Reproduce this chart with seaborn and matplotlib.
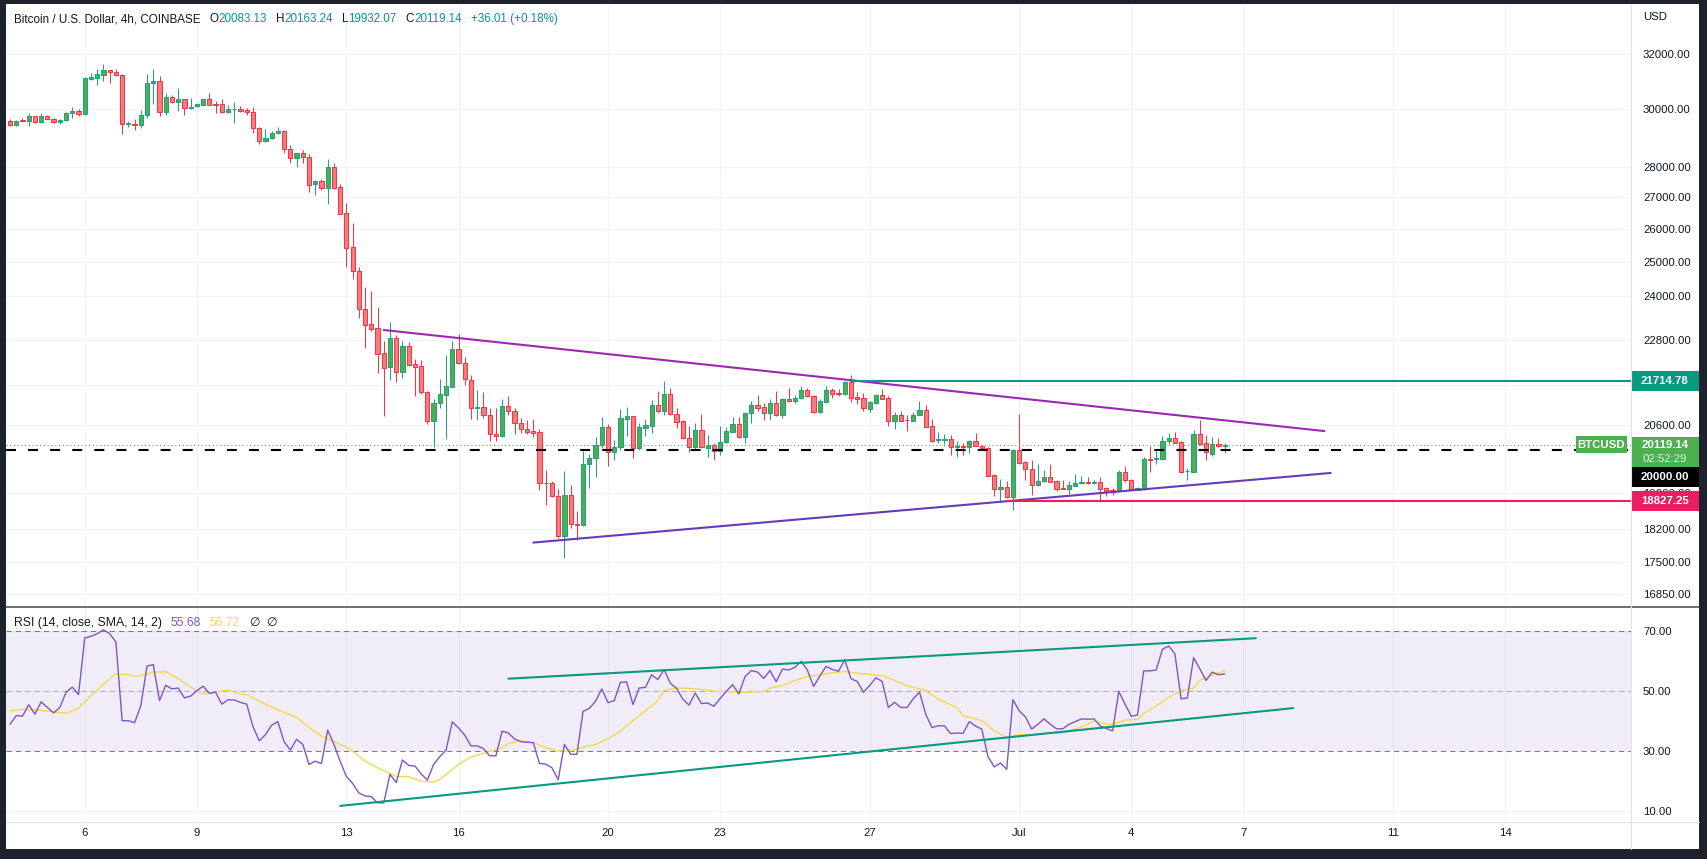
import numpy as np
import pandas as pd
import matplotlib
matplotlib.use("Agg")
import matplotlib.pyplot as plt
import matplotlib.dates as mdates
from matplotlib.patches import Rectangle
from matplotlib.ticker import FixedLocator, NullLocator, FuncFormatter
import seaborn as sns

sns.set_style("white")
plt.rcParams['font.family'] = ['Liberation Sans', 'DejaVu Sans']

# --- BTCUSD 4h candles, 2022-06-04 00:00 .. 2022-07-06 12:00 ---
open_ = [29579, 29427, 29590, 29556, 29744, 29521, 29744, 29650, 29521, 29591,
         29838, 29933, 29803, 31081, 31130, 31241, 31400, 31328, 31229, 29451,
         29462, 29416, 29767, 30921, 30995, 29874, 30411, 30255, 30339, 30016,
         30099, 30147, 30339, 30183, 30159, 29874, 29980, 30004, 29945, 29897,
         29323, 28860, 28963, 29137, 29230, 28587, 28283, 28476, 28328, 27444,
         27520, 27313, 27982, 27335, 26503, 25453, 24737, 23635, 23226, 23116,
         22439, 22077, 22843, 21946, 22627, 22147, 22095, 21422, 20688, 21136,
         21355, 21559, 22537, 22174, 21721, 21010, 21035, 20836, 20379, 20339,
         21060, 20936, 20647, 20492, 20444, 20419, 19233, 19226, 18930, 18044,
         18953, 18303, 18282, 19657, 19797, 20106, 20540, 19940, 20058, 20753,
         20811, 20034, 20532, 20581, 21085, 20935, 21371, 20860, 20695, 20274,
         20074, 20476, 20034, 20106, 19963, 20186, 20435, 20614, 20314, 20885,
         21085, 21035, 20885, 21135, 20836, 21236, 21194, 21261, 21465, 21312,
         20926, 21177, 21465, 21396, 21363, 21679, 21287, 21261, 21001, 21152,
         21337, 21261, 20703, 20836, 20720, 20703, 20852, 20968, 20565, 20226,
         20245, 20250, 20058, 20082, 20058, 20202, 20090, 20034, 19409, 19081,
         19126, 18900, 19987, 19704, 19540, 19173, 19271, 19358, 19272, 19106,
         19098, 19165, 19218, 19249, 19218, 19249, 19113, 19067, 19045, 19479,
         19295, 19067, 19083, 19774, 19774, 19782, 20202, 20275, 20186, 19495,
         19487, 20379, 20162, 19900, 20138, 20083.13]
high_ = [29650, 29600, 29673, 29862, 29760, 29862, 29770, 29660, 29640, 29870,
         30075, 30004, 31150, 31303, 31440, 31640, 31420, 31440, 31250, 29556,
         29650, 29945, 31280, 31450, 31204, 30580, 30484, 30750, 30360, 30387,
         30190, 30360, 30580, 30279, 30350, 30135, 30255, 30099, 30027, 30075,
         29357, 29299, 29230, 29346, 29240, 28734, 28470, 28576, 28418, 27574,
         27585, 28249, 28116, 27433, 26820, 26200, 24855, 24280, 24165, 23710,
         22761, 23282, 22934, 22761, 22743, 22280, 22253, 21440, 21245, 21756,
         22385, 22761, 22952, 22324, 21859, 21473, 21422, 21019, 21019, 21245,
         21321, 21019, 20778, 20721, 20746, 20500, 19525, 19271, 19081, 19502,
         19180, 18596, 19979, 19901, 20306, 20794, 20614, 20234, 20993, 21043,
         20830, 20646, 20744, 21219, 21448, 21704, 21524, 21018, 20720, 20573,
         20646, 20868, 20347, 20154, 20573, 20556, 20786, 20786, 20918, 21194,
         21346, 21135, 21236, 21448, 21261, 21524, 21337, 21575, 21524, 21337,
         21245, 21575, 21515, 21490, 21704, 21860, 21422, 21388, 21186, 21371,
         21490, 21312, 20918, 20943, 20852, 20926, 21194, 21093, 20744, 20427,
         20390, 20355, 20202, 20154, 20234, 20403, 20122, 20058, 19424, 19309,
         19271, 20019, 20868, 19727, 19750, 19665, 19526, 19665, 19290, 19295,
         19272, 19432, 19386, 19358, 19295, 19366, 19128, 19113, 19526, 19619,
         19312, 19128, 19821, 20091, 19995, 20331, 20395, 20420, 20200, 19579,
         20476, 20721, 20355, 20307, 20275, 20163.24]
low_ = [29381, 29400, 29532, 29381, 29500, 29500, 29620, 29500, 29460, 29560,
        29661, 29732, 29790, 31032, 30872, 31020, 30945, 31180, 29126, 29357,
        29265, 29311, 29661, 30183, 29756, 29791, 30219, 29933, 29791, 29980,
        30080, 30130, 30130, 29850, 29860, 29860, 29486, 29900, 29767, 29148,
        28757, 28840, 28950, 29120, 28465, 28138, 28004, 28138, 27184, 27087,
        27238, 26788, 27270, 26470, 24855, 24503, 23383, 22582, 23043, 21920,
        20828, 21730, 21687, 21790, 22100, 21330, 21372, 20622, 20074, 21027,
        20250, 21540, 22150, 21610, 20738, 20721, 20778, 20218, 20218, 20315,
        20844, 20371, 20411, 20371, 20298, 19066, 18737, 18900, 18000, 17592,
        18231, 17965, 18270, 19119, 19371, 20050, 19626, 19766, 19995, 20330,
        19814, 19987, 20330, 20411, 20901, 20836, 20850, 20532, 20260, 19955,
        19987, 20050, 19838, 19766, 19885, 20170, 20420, 20290, 20162, 20654,
        20951, 20728, 20728, 20811, 20778, 21180, 21135, 21250, 21300, 20901,
        20901, 21135, 21270, 21329, 21350, 21177, 21118, 20951, 20918, 21127,
        21240, 20573, 20500, 20690, 20459, 20690, 20840, 20540, 20194, 20170,
        20146, 19877, 19830, 19885, 19916, 20080, 20040, 19380, 18938, 18803,
        18890, 18625, 19670, 19302, 18960, 19160, 19240, 19240, 19052, 19090,
        18969, 19150, 19210, 19205, 19205, 18789, 18931, 18954, 19030, 19241,
        19070, 19055, 19070, 19487, 19657, 19770, 20138, 20160, 19463, 19305,
        19480, 20105, 19758, 19860, 20070, 19932.07]
close_ = [29416, 29579, 29570, 29744, 29521, 29744, 29638, 29521, 29615, 29850,
          29933, 29803, 31106, 31155, 31266, 31415, 31328, 31217, 29451, 29486,
          29416, 29779, 30921, 30995, 29874, 30411, 30255, 30339, 30016, 30075,
          30171, 30339, 30147, 30147, 29874, 30004, 30004, 29909, 29874, 29311,
          28860, 28986, 29148, 29230, 28587, 28283, 28454, 28317, 27411, 27542,
          27313, 27982, 27313, 26482, 25433, 24727, 23635, 23208, 23098, 22421,
          22051, 22843, 21946, 22627, 22121, 22077, 21414, 20688, 21144, 21372,
          21576, 22537, 22165, 21747, 21010, 21035, 20836, 20371, 20339, 21060,
          20936, 20639, 20492, 20436, 20411, 19233, 19226, 18923, 18044, 18953,
          18303, 18282, 19657, 19797, 20106, 20548, 19940, 20066, 20769, 20819,
          20034, 20548, 20597, 21085, 20935, 21371, 20860, 20679, 20274, 20074,
          20476, 20058, 20106, 19963, 20186, 20451, 20614, 20314, 20893, 21085,
          21026, 20885, 21135, 20836, 21236, 21194, 21270, 21465, 21312, 20926,
          21194, 21465, 21380, 21363, 21679, 21278, 21253, 21010, 21160, 21337,
          21253, 20703, 20836, 20703, 20710, 20852, 20968, 20556, 20218, 20250,
          20252, 20058, 20090, 20058, 20202, 20090, 20050, 19394, 19081, 19126,
          18900, 19987, 19680, 19540, 19173, 19271, 19358, 19256, 19098, 19100,
          19180, 19226, 19249, 19218, 19249, 19098, 19052, 19022, 19479, 19295,
          19083, 19106, 19774, 19770, 19797, 20202, 20275, 20170, 19487, 19502,
          20379, 20146, 19940, 20138, 20083, 20119.14]

# RSI(14) per candle
rsi = [38.9, 41.8, 41.6, 45.4, 42.3, 46.4, 44.5, 42.7, 44.5, 49.6,
       51.3, 48.8, 67.7, 68.2, 69.1, 70.4, 69.1, 66.3, 40.1, 40.1,
       39.4, 45.1, 58.3, 58.8, 46.8, 51.9, 50.7, 51.0, 47.7, 48.3,
       50.1, 51.6, 49.2, 49.6, 45.6, 47.1, 47.0, 46.2, 45.6, 38.2,
       33.4, 35.4, 38.6, 39.8, 33.1, 30.3, 33.9, 32.2, 25.5, 26.6,
       25.8, 37.0, 32.2, 26.6, 21.5, 19.2, 16.0, 15.0, 14.8, 12.7,
       12.7, 22.2, 19.5, 27.0, 25.2, 25.0, 22.4, 20.3, 25.5, 28.1,
       30.3, 39.7, 37.7, 35.3, 31.7, 31.7, 30.8, 28.4, 28.4, 36.6,
       36.0, 34.0, 33.1, 32.9, 32.8, 25.9, 25.6, 24.4, 20.4, 32.2,
       28.9, 28.9, 43.2, 44.2, 46.6, 50.7, 46.1, 46.8, 52.9, 53.0,
       45.5, 51.0, 51.2, 55.4, 53.8, 57.2, 52.6, 50.9, 47.3, 45.3,
       49.3, 45.8, 46.0, 44.9, 47.5, 49.9, 52.1, 49.0, 54.8, 56.8,
       56.3, 54.2, 56.8, 53.1, 57.3, 57.0, 57.9, 59.9, 57.0, 51.5,
       55.0, 58.2, 57.2, 56.6, 60.4, 54.1, 53.2, 49.6, 51.8, 54.4,
       53.2, 44.5, 46.2, 44.5, 44.5, 47.4, 49.6, 42.3, 37.8, 38.4,
       38.4, 35.8, 36.0, 35.9, 39.8, 38.3, 37.3, 28.1, 24.7, 26.0,
       23.9, 47.1, 43.4, 41.4, 37.3, 38.9, 40.7, 38.9, 37.4, 37.4,
       38.9, 39.8, 40.7, 40.6, 40.7, 38.4, 37.5, 36.7, 49.9, 45.6,
       41.6, 42.0, 56.7, 56.7, 57.0, 63.9, 65.0, 62.4, 47.4, 47.7,
       61.1, 57.4, 53.5, 56.3, 55.4, 55.68]

# RSI-based SMA(14), read at these candle indices
sma_idx = [0, 2, 4, 7, 9, 11, 13, 15, 17, 19, 20, 22, 23, 25, 27, 29, 31, 33, 35, 37,
           38, 41, 43, 46, 48, 50, 52, 54, 55, 57, 59, 61, 62, 64, 66, 68, 69, 70, 72, 74,
           77, 79, 80, 82, 84, 86, 88, 90, 92, 94, 96, 98, 100, 102, 104, 105, 107, 109, 110, 112,
           113, 115, 117, 119, 121, 122, 124, 126, 128, 130, 132, 134, 137, 140, 142, 144, 147, 149, 152, 153,
           156, 158, 160, 162, 164, 166, 169, 171, 173, 174, 176, 177, 179, 181, 182, 184, 186, 188, 190, 191,
           192, 193, 195]
sma_val = [43.4, 43.9, 43.7, 43.1, 42.5, 44.2, 48.4, 52.3, 55.7, 55.5, 54.8, 55.7, 56.3, 56.4, 54.2, 51.2, 49.0, 49.6, 50.3, 49.0,
           48.8, 45.6, 43.7, 41.2, 37.8, 35.0, 33.1, 31.3, 30.0, 26.6, 24.4, 22.5, 21.5, 21.5, 19.9, 19.7, 20.5, 22.2, 25.5, 28.0,
           29.8, 31.1, 32.5, 33.4, 32.8, 31.1, 30.0, 30.0, 31.3, 32.2, 34.1, 36.7, 40.1, 43.4, 46.8, 50.1, 51.0, 50.9, 50.7, 50.3,
           49.9, 49.8, 49.6, 49.6, 49.8, 50.9, 51.8, 53.5, 54.9, 55.4, 56.1, 56.5, 55.7, 55.1, 53.5, 51.8, 50.1, 47.3, 44.5, 41.8,
           40.1, 36.7, 34.5, 35.4, 35.4, 35.8, 36.0, 37.3, 38.9, 40.1, 38.9, 38.9, 40.3, 40.5, 42.5, 45.0, 47.9, 50.1, 51.0, 53.5,
           54.6, 55.3, 56.72]

# drawings
upper_tl = (["2022-06-14 00:00", "2022-07-09 04:00"], [23061, 20450])
lower_tl = (["2022-06-18 00:00", "2022-07-09 08:00"], [17911, 19456])
resist_start, resist_price = "2022-06-26 12:00", 21714.78
support_start, support_price = "2022-06-30 16:00", 18827.25
level_price = 20000.0
rsi_upper = (["2022-06-17 08:00", "2022-07-07 08:00"], [54.1, 67.6])
rsi_lower = (["2022-06-12 20:00", "2022-07-08 08:00"], [11.7, 44.3])

price_ticks = [32000, 30000, 28000, 27000, 26000, 25000, 24000, 22800, 21600, 20600, 19000, 18200, 17500, 16850]
hidden_ticks = [21600]   # gridline only, its label sits under the 21714.78 tag
rsi_ticks = [10, 30, 50, 70]
date_ticks = ["2022-06-06", "2022-06-09", "2022-06-13", "2022-06-16", "2022-06-20", "2022-06-23",
              "2022-06-27", "2022-07-01", "2022-07-04", "2022-07-07", "2022-07-11", "2022-07-14"]
date_labels = ["6", "9", "13", "16", "20", "23", "27", "Jul", "4", "7", "11", "14"]

# --- colours ---
TXT = '#131722'
UP, UP_E = '#4caf50', '#22a08a'
DN, DN_E = '#f77c80', '#f23645'
TEAL = '#089981'
GRID = '#f0f3fa'

times = pd.date_range("2022-06-04 00:00", periods=len(close_), freq="4h")
t = mdates.date2num(times.to_pydatetime())
o, h, l, c = map(np.array, (open_, high_, low_, close_))
d = lambda s: mdates.date2num(pd.Timestamp(s).to_pydatetime())

W, H = 1708, 859
fig = plt.figure(figsize=(W / 100, H / 100), dpi=100, facecolor='#1e222d')
def rect(x0, y0, x1, y1):
    return [x0 / W, 1 - y1 / H, (x1 - x0) / W, (y1 - y0) / H]

fig.add_artist(Rectangle((6 / W, 1 - 849 / H), 1693 / W, 845 / H, transform=fig.transFigure,
                         facecolor='white', edgecolor='none', zorder=-1))
ax = fig.add_axes(rect(6, 4, 1631, 607))
ax2 = fig.add_axes(rect(6, 607, 1631, 822), sharex=ax)

# --- candles ---
up = c >= o
ax.vlines(t, l, h, colors=np.where(up, UP_E, DN_E), linewidth=0.75, zorder=3)
ax.bar(t, np.abs(c - o), bottom=np.minimum(o, c), width=0.113,
       color=np.where(up, UP, DN), edgecolor=np.where(up, UP_E, DN_E), linewidth=0.75, zorder=4)

x_left, x_right = t[0] - 0.107, t[0] + 43.37
ax.set_xlim(x_left, x_right)
ax.set_yscale('log')
ax.set_ylim(16590, 33980)

# drawings on price pane
ax.plot([d(s) for s in upper_tl[0]], upper_tl[1], color='#9c27b0', lw=1.5, zorder=6)
ax.plot([d(s) for s in lower_tl[0]], lower_tl[1], color='#673ab7', lw=1.5, zorder=6)
ax.plot([d(resist_start), x_right], [resist_price] * 2, color=TEAL, lw=1.5, zorder=6)
ax.plot([d(support_start), x_right], [support_price] * 2, color='#e91e63', lw=1.5, zorder=6)
ax.plot([x_left, x_right], [level_price] * 2, color='black', lw=1.5, dashes=(4.8, 5.8), zorder=6)
ax.plot([x_left, x_right], [close_[-1]] * 2, color=UP, lw=0.75, dashes=(1, 2.6), zorder=5)

ax.yaxis.tick_right()
ax.yaxis.set_major_locator(FixedLocator(price_ticks))
ax.yaxis.set_minor_locator(NullLocator())
ax.yaxis.set_major_formatter(FuncFormatter(lambda v, p: "" if round(v) in hidden_ticks else f"{v:.2f}"))
ax.tick_params(axis='y', length=0, pad=8.6, labelsize=8.2, labelcolor=TXT)
ax.tick_params(axis='x', length=0, labelbottom=False)

# --- RSI pane ---
ax2.axhspan(30, 70, color='#7e57c2', alpha=0.1, lw=0, zorder=1)
for lv, a in [(70, 1.0), (50, 0.5), (30, 1.0)]:
    ax2.axhline(lv, color='#787b86', alpha=a, lw=0.75, dashes=(5, 4), zorder=2)
sns.lineplot(x=t[np.array(sma_idx)], y=sma_val, ax=ax2, color='#f5d94a', lw=1.0, zorder=4)
sns.lineplot(x=t, y=rsi, ax=ax2, color='#7e57c2', lw=1.0, zorder=5)
ax2.plot([d(s) for s in rsi_upper[0]], rsi_upper[1], color=TEAL, lw=1.5, zorder=6)
ax2.plot([d(s) for s in rsi_lower[0]], rsi_lower[1], color=TEAL, lw=1.5, zorder=6)
ax2.set_ylim(6.33, 78.0)
ax2.set_xlabel('')
ax2.set_ylabel('')
ax2.yaxis.tick_right()
ax2.yaxis.set_major_locator(FixedLocator(rsi_ticks))
ax2.yaxis.set_major_formatter(FuncFormatter(lambda v, p: f"{v:.2f}"))
ax2.tick_params(axis='y', length=0, pad=8.6, labelsize=8.2, labelcolor=TXT)
ax2.set_xticks([d(s) for s in date_ticks])
ax2.set_xticklabels(date_labels)
ax2.tick_params(axis='x', length=0, pad=4.5, labelsize=8.2, labelcolor=TXT)

for a in (ax, ax2):
    a.set_facecolor('white')
    a.grid(True, color=GRID, lw=0.8, zorder=0)
    a.set_axisbelow(True)
    for s in a.spines.values():
        s.set_visible(False)

# --- overlay in pixel space: separators, price tags, legends ---
ov = fig.add_axes([0, 0, 1, 1], zorder=10)
ov.set_xlim(0, W)
ov.set_ylim(H, 0)
ov.axis('off')
ax_r = ax.get_position().x1 * W
ov.plot([6, 1699], [607, 607], color='#434651', lw=1.1)
ov.plot([6, 1699], [822, 822], color='#e0e3eb', lw=0.8)
ov.plot([ax_r, ax_r], [4, 849], color='#e0e3eb', lw=0.8)
ov.text(ax_r + 12, 17, 'USD', fontsize=8.2, color=TXT, va='center')

def py(p):
    return H - ax.transData.transform((x_left, p))[1]

def tag(yc, text, fc, x0=None, x1=1699, hh=20):
    x0 = ax_r if x0 is None else x0
    ov.add_patch(Rectangle((x0, yc - hh / 2), x1 - x0, hh, facecolor=fc, edgecolor='none'))
    ov.text((x0 + x1) / 2, yc, text, color='white', fontsize=8.2, weight='bold', ha='center', va='center')

tag(py(resist_price), f"{resist_price:.2f}", TEAL)
yl = py(close_[-1])
ov.add_patch(Rectangle((ax_r, yl - 8), 1699 - ax_r, 30, facecolor=UP, edgecolor='none'))
ov.text((ax_r + 1699) / 2, yl, f"{close_[-1]:.2f}", color='white', fontsize=8.2, weight='bold', ha='center', va='center')
ov.text((ax_r + 1699) / 2, yl + 14.5, "02:52:29", color='#e8f5e9', fontsize=8.2, ha='center', va='center')
tag(yl + 32, f"{level_price:.2f}", 'black')
tag(py(support_price), f"{support_price:.2f}", '#e91e63')
tag(yl, "BTCUSD", UP, x0=ax_r - 55, x1=ax_r - 4, hh=17)

fig.canvas.draw()
rend = fig.canvas.get_renderer()
def seq(x, y, parts, size):
    for s, col, gap in parts:
        tx = ov.text(x, y, s, color=col, fontsize=size, va='center', ha='left')
        x += tx.get_window_extent(renderer=rend).width + gap

seq(14, 19, [("Bitcoin / U.S. Dollar, 4h, COINBASE", TXT, 9),
             ("O", TXT, 0), (f"{open_[-1]:.2f}", TEAL, 9),
             ("H", TXT, 0), (f"{high_[-1]:.2f}", TEAL, 9),
             ("L", TXT, 0), (f"{low_[-1]:.2f}", TEAL, 9),
             ("C", TXT, 0), (f"{close_[-1]:.2f}", TEAL, 9),
             ("+36.01 (+0.18%)", TEAL, 0)], 8.4)
seq(14, 623, [("RSI (14, close, SMA, 14, 2)", TXT, 9),
              (f"{rsi[-1]:.2f}", '#7e57c2', 8),
              (f"{sma_val[-1]:.2f}", '#f5d94a', 9),
              ("\u2205", TXT, 7), ("\u2205", TXT, 0)], 8.8)

fig.savefig("out.png", dpi=100, facecolor=fig.get_facecolor())
